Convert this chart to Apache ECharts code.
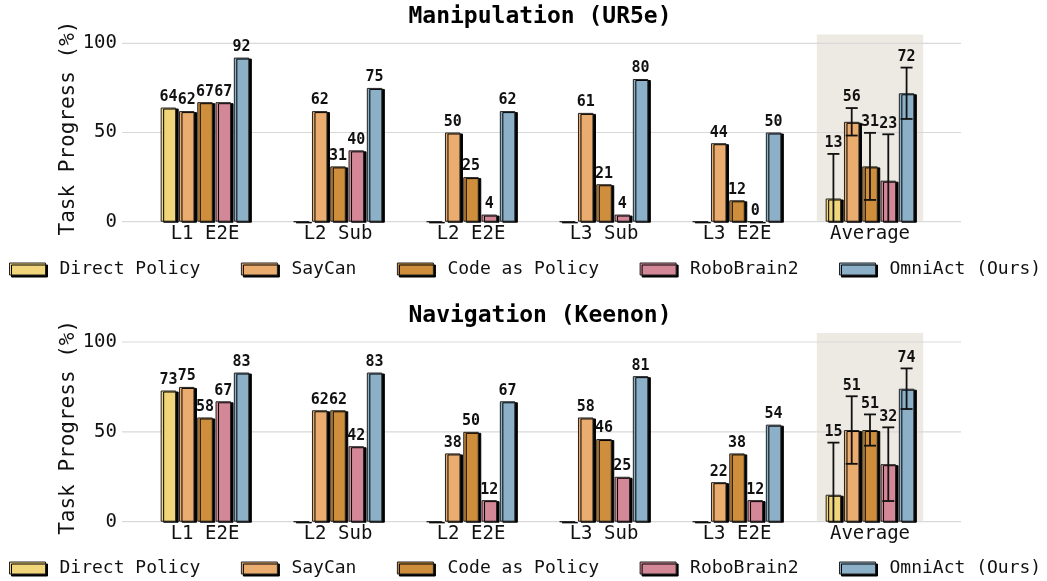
<!DOCTYPE html>
<html>
<head>
<meta charset="utf-8">
<script src="https://cdn.jsdelivr.net/npm/echarts@6/dist/echarts.min.js"></script>
<style>
html,body{margin:0;padding:0;background:#fff;}
#chart{width:1047px;height:581px;}
</style>
</head>
<body>
<div id="chart"></div>
<script>
// ---------- data ----------
const categories = ['L1 E2E', 'L2 Sub', 'L2 E2E', 'L3 Sub', 'L3 E2E', 'Average'];
const seriesNames = ['Direct Policy', 'SayCan', 'Code as Policy', 'RoboBrain2', 'OmniAct (Ours)'];
const yTicks = [0, 50, 100];
const yMax = 105;
const titles = ['Manipulation (UR5e)', 'Navigation (Keenon)'];

// Manipulation (UR5e); null = not evaluated (drawn flat, no label)
const manipDirect = [64, null, null, null, null, 13];
const manipSayCan = [62, 62, 50, 61, 44, 56];
const manipCode   = [67, 31, 25, 21, 12, 31];
const manipRobo   = [67, 40, 4, 4, 0, 23];
const manipOmni   = [92, 75, 62, 80, 50, 72];
const manipErr    = [25, 7.7, 18.8, 26, 14.4];   // std on Average

// Navigation (Keenon)
const navDirect = [73, null, null, null, null, 15];
const navSayCan = [75, 62, 38, 58, 22, 51];
const navCode   = [58, 62, 50, 46, 38, 51];
const navRobo   = [67, 42, 12, 25, 12, 32];
const navOmni   = [83, 83, 67, 81, 54, 74];
const navErr    = [29, 18.8, 8.7, 20.5, 11.3];

// ---------- style ----------
const colors = ['#F0D57B', '#EAAD6F', '#CE8E3B', '#D48797', '#8BB0C8'];
const FONT = "'DejaVu Sans Mono', monospace";
const BAR_W = 15.5;
const BAR_GAP = 0.18;
const PITCH = BAR_W * (1 + BAR_GAP);

const chartData = [
  { series: [manipDirect, manipSayCan, manipCode, manipRobo, manipOmni], err: manipErr },
  { series: [navDirect, navSayCan, navCode, navRobo, navOmni], err: navErr }
];

const layouts = [
  { top: 34.4, bottom: 359.3, titleTop: 1, legendTop: 260 },
  { top: 333.0, bottom: 59.3, titleTop: 300, legendTop: 559 }
];

const grid = [], xAxis = [], yAxis = [], series = [], title = [], legend = [];
const avgIdx = categories.length - 1;

chartData.forEach((cd, c) => {
  const L = layouts[c];
  const bg = 2 * c, mn = 2 * c + 1;
  grid.push({ left: 122, right: 86, top: L.top, bottom: L.bottom });
  grid.push({ left: 138.5, right: 110.5, top: L.top, bottom: L.bottom });
  xAxis.push({ gridIndex: bg, type: 'value', min: 0, max: 1, show: false });
  xAxis.push({
    gridIndex: mn, type: 'category', data: categories,
    axisLine: { show: false }, axisTick: { show: false },
    axisLabel: { fontSize: 19, color: '#111', fontFamily: FONT, margin: 3 }
  });
  yAxis.push({
    gridIndex: bg, type: 'value', min: 0, max: yMax, interval: 50,
    axisLine: { show: false }, axisTick: { show: false }, splitLine: { show: false },
    axisLabel: { fontSize: 19, color: '#111', fontFamily: FONT, margin: 5,
      formatter: v => (yTicks.indexOf(v) >= 0 ? String(v) : '') },
    name: 'Task Progress (%)', nameLocation: 'middle', nameGap: 43, nameMoveOverlap: false,
    nameTextStyle: { fontSize: 21, color: '#111', fontFamily: FONT }
  });
  yAxis.push({ gridIndex: mn, type: 'value', min: 0, max: yMax, show: false });

  title.push({
    text: titles[c], left: 535, top: L.titleTop, textAlign: 'center',
    textStyle: { fontFamily: FONT, fontWeight: 'bold', fontSize: 23, color: '#000' }
  });
  legend.push({
    data: seriesNames, left: 9, top: L.legendTop, width: 1040, padding: 0, itemGap: 40.5,
    itemWidth: 36, itemHeight: 12, icon: 'rect',
    itemStyle: { borderColor: '#222', borderWidth: 1, shadowColor: '#000', shadowBlur: 0, shadowOffsetX: 2, shadowOffsetY: 2 },
    textStyle: { fontFamily: FONT, fontSize: 18, color: '#111', padding: [0, 0, 0, 9] },
    selectedMode: false
  });

  // gridlines
  series.push({
    type: 'custom', xAxisIndex: bg, yAxisIndex: bg, z: 1, silent: true,
    data: yTicks.map(v => [0, v]),
    renderItem: (params, api) => {
      const a = api.coord([0, api.value(1)]);
      const b = api.coord([1, api.value(1)]);
      return { type: 'line', shape: { x1: a[0], y1: a[1], x2: b[0], y2: b[1] },
        style: { stroke: '#d9d9d9', lineWidth: 1.2 } };
    }
  });
  // shaded Average band
  series.push({
    type: 'custom', xAxisIndex: mn, yAxisIndex: mn, z: 0, silent: true,
    data: [[avgIdx, yMax]],
    renderItem: (params, api) => {
      const t = api.coord([api.value(0), api.value(1)]);
      const b = api.coord([api.value(0), 0]);
      const w = api.size([1, 0])[0] * 0.8;
      return { type: 'rect', shape: { x: t[0] - w / 2, y: t[1], width: w, height: b[1] - t[1] },
        style: { fill: '#EDE9E3' } };
    }
  });
  // bars
  cd.series.forEach((arr, k) => {
    series.push({
      type: 'bar', name: seriesNames[k], xAxisIndex: mn, yAxisIndex: mn, z: 3,
      barWidth: BAR_W, barGap: (BAR_GAP * 100) + '%',
      itemStyle: { color: colors[k], borderColor: '#222', borderWidth: 1,
        shadowColor: '#000', shadowBlur: 0, shadowOffsetX: 2.5, shadowOffsetY: 1 },
      label: { show: true, position: 'top', distance: 3, fontFamily: FONT,
        fontWeight: 'bold', fontSize: 15, color: '#111' },
      data: arr.map((v, i) => {
        if (v === null) return { value: 0, label: { show: false } };
        if (i === avgIdx) return { value: v, label: { show: false } };
        return v;
      })
    });
  });
  // error bars + labels on Average
  series.push({
    type: 'custom', xAxisIndex: mn, yAxisIndex: mn, z: 5, silent: true, clip: false,
    data: cd.err.map((e, k) => [avgIdx, cd.series[k][avgIdx], e, k]),
    renderItem: (params, api) => {
      const k = api.value(3);
      const mean = api.value(1), err = api.value(2);
      const base = api.coord([api.value(0), mean]);
      const x = base[0] + (k - 2) * PITCH;
      const yt = api.coord([api.value(0), mean + err])[1];
      const lowV = Math.max(0, mean - err);
      const yb = api.coord([api.value(0), lowV])[1];
      const cap = 6;
      const st = { stroke: '#111', lineWidth: 1.8 };
      const children = [
        { type: 'line', shape: { x1: x, y1: yt, x2: x, y2: yb }, style: st },
        { type: 'line', shape: { x1: x - cap, y1: yt, x2: x + cap, y2: yt }, style: st },
        { type: 'text', style: { text: String(mean), x: x, y: yt - 3, align: 'center', verticalAlign: 'bottom',
          font: 'bold 15px ' + FONT, fill: '#111' } }
      ];
      if (mean - err >= 0) children.push({ type: 'line', shape: { x1: x - cap, y1: yb, x2: x + cap, y2: yb }, style: st });
      return { type: 'group', children: children };
    }
  });
});

const chart = echarts.init(document.getElementById('chart'), null, { renderer: 'canvas' });
chart.setOption({
  animation: false,
  backgroundColor: '#fff',
  textStyle: { fontFamily: FONT },
  title, legend, grid, xAxis, yAxis, series
});
</script>
</body>
</html>
